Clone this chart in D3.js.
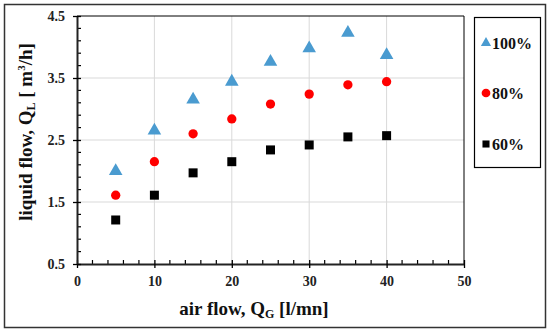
<!DOCTYPE html>
<html><head><meta charset="utf-8">
<script src="https://cdn.jsdelivr.net/npm/d3@7"></script>
<style>body{margin:0;background:#fff}svg{display:block}text{font-family:"Liberation Serif","Times New Roman",serif;font-weight:bold}</style>
</head><body><svg id="c" width="550" height="332"></svg>
<script>
const airFlow = [5, 10, 15, 20, 25, 30, 35, 40];
const flow100 = [2.0, 2.65, 3.15, 3.44, 3.76, 3.98, 4.23, 3.87];
const flow80 = [1.61, 2.15, 2.6, 2.84, 3.08, 3.24, 3.39, 3.44];
const flow60 = [1.21, 1.61, 1.97, 2.15, 2.34, 2.42, 2.55, 2.57];
const xTicks = [0, 10, 20, 30, 40, 50];
const yTicks = [0.5, 1.5, 2.5, 3.5, 4.5];
const seriesNames = ["100%", "80%", "60%"];
const seriesColors = ["#4a9bd0", "#ff0000", "#000000"];
const seriesShapes = [d3.symbolTriangle, d3.symbolCircle, d3.symbolSquare];
const seriesValues = [flow100, flow80, flow60];

const svg = d3.select("#c");
const L = 77, R = 464, T = 16, B = 264;
const x = d3.scaleLinear().domain([0, 50]).range([L, R]);
const y = d3.scaleLinear().domain([0.5, 4.5]).range([B, T]);

// outer border
svg.append("rect").attr("x", 4.5).attr("y", 4.5).attr("width", 541).attr("height", 323)
  .attr("fill", "none").attr("stroke", "#333").attr("stroke-width", 1.5);

// grid
svg.append("g").selectAll("line").data(xTicks.slice(1, -1)).join("line")
  .attr("x1", d => x(d)).attr("x2", d => x(d)).attr("y1", T).attr("y2", B)
  .attr("stroke", "#d9d9d9").attr("stroke-width", 1);
svg.append("g").selectAll("line").data(yTicks.slice(1, -1)).join("line")
  .attr("y1", d => y(d)).attr("y2", d => y(d)).attr("x1", L).attr("x2", R)
  .attr("stroke", "#d9d9d9").attr("stroke-width", 1);

// plot frame top/right
svg.append("path").attr("d", `M${L},${T}H${R}V${B}`).attr("fill", "none").attr("stroke", "#000").attr("stroke-width", 1);

// minor ticks
const xMinor = d3.range(2, 50, 2).filter(v => v % 10 !== 0);
svg.append("g").selectAll("line").data(xMinor).join("line")
  .attr("x1", d => x(d)).attr("x2", d => x(d)).attr("y1", B).attr("y2", B - 4)
  .attr("stroke", "#000").attr("stroke-width", 1.2);
const yMinor = [0.7, 0.9, 1.1, 1.3, 1.7, 1.9, 2.1, 2.3, 2.7, 2.9, 3.1, 3.3, 3.7, 3.9, 4.1, 4.3];
svg.append("g").selectAll("line").data(yMinor).join("line")
  .attr("y1", d => y(d)).attr("y2", d => y(d)).attr("x1", L).attr("x2", L + 4)
  .attr("stroke", "#000").attr("stroke-width", 1.2);

// axes
const xAxis = svg.append("g").attr("transform", `translate(0,${B})`)
  .call(d3.axisBottom(x).tickValues(xTicks).tickSize(4).tickSizeOuter(0).tickPadding(8));
const yAxis = svg.append("g").attr("transform", `translate(${L},0)`)
  .call(d3.axisLeft(y).tickValues(yTicks).tickFormat(d3.format(".1f")).tickSize(4).tickSizeOuter(0).tickPadding(8));
[xAxis, yAxis].forEach(a => {
  a.select(".domain").attr("stroke", "#222").attr("stroke-width", 2);
  a.selectAll(".tick line").attr("stroke", "#000").attr("stroke-width", 1.3);
  a.selectAll(".tick text").attr("font-size", 14).attr("font-family", "Liberation Serif").attr("font-weight", "bold").attr("fill", "#222");
});
xAxis.selectAll(".tick line").attr("y1", -4).attr("y2", 4);
yAxis.selectAll(".tick line").attr("x1", 4).attr("x2", -4);

// axis titles
const xt = svg.append("text").attr("x", 254).attr("y", 315).attr("text-anchor", "middle").attr("font-size", 19).attr("fill", "#111");
xt.append("tspan").text("air flow, Q");
xt.append("tspan").text("G").attr("font-size", 12).attr("dy", 3);
xt.append("tspan").text(" [l/mn]").attr("dy", -3);

const yt = svg.append("text").attr("transform", `translate(32,132) rotate(-90)`).attr("text-anchor", "middle").attr("font-size", 19).attr("fill", "#111");
yt.append("tspan").text("liquid flow, Q");
yt.append("tspan").text("L").attr("font-size", 12).attr("dy", 3);
yt.append("tspan").text(" [ m").attr("dy", -3);
yt.append("tspan").text("3").attr("font-size", 11).attr("dy", -7);
yt.append("tspan").text("/h]").attr("dy", 7);

// points
const sizes = [80, 68, 81];
seriesValues.forEach((vals, i) => {
  svg.append("g").selectAll("path").data(vals).join("path")
    .attr("d", d3.symbol().type(seriesShapes[i]).size(sizes[i]))
    .attr("transform", (d, j) => `translate(${x(airFlow[j])},${y(d)})`)
    .attr("fill", seriesColors[i]);
});

// legend
svg.append("rect").attr("x", 474.5).attr("y", 17.5).attr("width", 66).attr("height", 150)
  .attr("fill", "#fff").attr("stroke", "#000").attr("stroke-width", 1.2);
const legY = [43, 93, 144];
const legSizes = [45, 60, 50];
seriesNames.forEach((n, i) => {
  svg.append("path").attr("d", d3.symbol().type(seriesShapes[i]).size(legSizes[i])())
    .attr("transform", `translate(486,${legY[i]})`).attr("fill", seriesColors[i]);
  svg.append("text").attr("x", 492).attr("y", legY[i] + 6).attr("font-size", 16).attr("fill", "#111").text(n);
});
</script></body></html>
